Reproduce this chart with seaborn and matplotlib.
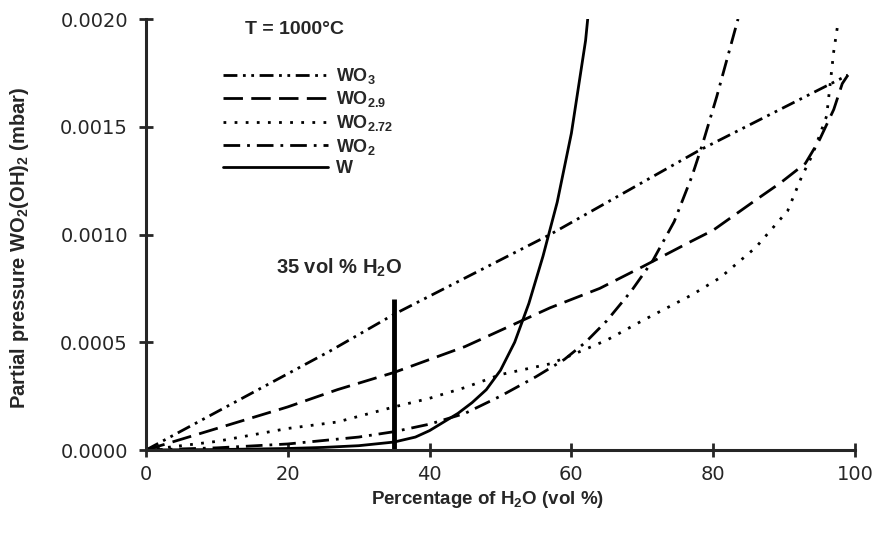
import matplotlib
matplotlib.use("Agg")
import matplotlib.pyplot as plt
from matplotlib.ticker import FormatStrFormatter
import seaborn as sns
import pandas as pd

# H2O content (vol %) and WO2(OH)2 partial pressure (mbar) for each phase
h2o_wo3 = [0, 26, 35, 57, 78, 99]
p_wo3 = [0, 0.00046, 0.00063, 0.00100, 0.00139, 0.00174]

h2o_wo29 = [0, 10, 20, 27, 35, 45, 51, 57, 64, 70, 77, 80, 86, 89.5, 93, 95, 97, 98.2, 99]
p_wo29 = [0, 0.00010, 0.00020, 0.00028, 0.00036, 0.00048, 0.00057, 0.00066, 0.00075,
          0.00085, 0.00097, 0.00102, 0.00116, 0.00124, 0.00133, 0.00144, 0.00158, 0.00170, 0.00174]

h2o_wo272 = [0, 5, 10, 20, 27, 35, 40, 45, 50, 57, 60, 65, 70, 77, 81, 86, 90.5, 92.5,
             94, 95, 96, 96.5, 97, 97.5]
p_wo272 = [0, 0.00002, 0.00004, 0.00010, 0.00013, 0.00020, 0.00024, 0.00029, 0.00035,
           0.00040, 0.00044, 0.00051, 0.00060, 0.00072, 0.00080, 0.00094, 0.00111, 0.00127,
           0.00137, 0.00146, 0.00155, 0.00170, 0.00185, 0.00196]

h2o_wo2 = [0, 10, 20, 30, 35, 40, 45, 50, 55, 59, 62, 65, 68.5, 71.5, 74.5, 77, 78.5, 80.5, 83.5]
p_wo2 = [0, 0.00001, 0.000028, 0.00006, 0.000085, 0.00012, 0.00017, 0.00025, 0.00034,
         0.00042, 0.00050, 0.00060, 0.00074, 0.00088, 0.00106, 0.00127, 0.00142, 0.00164, 0.00200]

h2o_w = [0, 10, 20, 25, 30, 35, 38, 40, 42, 44, 46, 48, 50, 52, 54, 56, 58, 60, 62, 62.3]
p_w = [0, 0.000002, 0.000007, 0.000012, 0.00002, 0.000037, 0.00006, 0.00009, 0.00013,
       0.00017, 0.00022, 0.00028, 0.00037, 0.00050, 0.00068, 0.00090, 0.00115, 0.00147,
       0.00190, 0.00200]

labels = ["WO$_3$", "WO$_{2.9}$", "WO$_{2.72}$", "WO$_2$", "W"]

# marker line for the 35 vol % H2O composition
line35_x = [35, 35]
line35_y = [0, 0.0007]

x_ticks = [0, 20, 40, 60, 80, 100]
y_ticks = [0.0, 0.0005, 0.0010, 0.0015, 0.0020]

frames = []
for lab, xs, ys in zip(labels,
                       [h2o_wo3, h2o_wo29, h2o_wo272, h2o_wo2, h2o_w],
                       [p_wo3, p_wo29, p_wo272, p_wo2, p_w]):
    frames.append(pd.DataFrame({"h2o": xs, "p": ys, "phase": lab}))
df = pd.concat(frames, ignore_index=True)

sns.set_style("ticks")
plt.rcParams["font.family"] = ["Liberation Sans", "DejaVu Sans"]
plt.rcParams["mathtext.fontset"] = "custom"
plt.rcParams["mathtext.rm"] = "Liberation Sans:bold"
plt.rcParams["mathtext.it"] = "Liberation Sans:bold"
plt.rcParams["mathtext.bf"] = "Liberation Sans:bold"

fig = plt.figure(figsize=(8.73, 5.34), dpi=100)
ax = fig.add_axes([0.1672, 0.1573, 0.9794 - 0.1672, 0.9644 - 0.1573])

dashes = {
    "WO$_3$": (5, 2, 1, 2, 1, 2),
    "WO$_{2.9}$": (7, 3),
    "WO$_{2.72}$": (1, 3),
    "WO$_2$": (6, 2.5, 1, 2.5),
    "W": "",
}
sns.lineplot(data=df, x="h2o", y="p", hue="phase", style="phase",
             palette=["black"] * 5, dashes=dashes, hue_order=labels,
             style_order=labels, sort=False, estimator=None, lw=2.0,
             ax=ax, legend=False)
ax.plot(line35_x, line35_y, color="black", lw=3.5, solid_capstyle="butt")

ax.set_xlim(0, 100)
ax.set_ylim(0, 0.002)
ax.set_xticks(x_ticks)
ax.set_yticks(y_ticks)
ax.yaxis.set_major_formatter(FormatStrFormatter("%.4f"))
ax.tick_params(direction="inout", length=10, width=2, labelsize=14, pad=8,
               labelfontfamily="DejaVu Sans")
ax.tick_params(axis="x", pad=6)
for side in ["left", "bottom"]:
    ax.spines[side].set_linewidth(2.2)
sns.despine(ax=ax)

ax.set_xlabel("Percentage of H$_2$O (vol %)", fontsize=13.5, fontweight="bold")
ax.xaxis.set_label_coords(0.482, -0.09)
ax.set_ylabel("Partial pressure WO$_2$(OH)$_2$ (mbar)", fontsize=14.5, fontweight="bold")
ax.yaxis.set_label_coords(-0.162, 0.47)

ax.text(14, 0.00195, "T = 1000°C", fontsize=14, fontweight="bold", va="center", ha="left")
ax.text(18.3, 0.000845, "35 vol % H$_2$O", fontsize=14.5, fontweight="bold", va="center", ha="left")

# legend built from the same line styles
handles = []
for lab in labels:
    d = dashes[lab]
    h, = ax.plot([], [], color="black", lw=2.0)
    if d:
        h.set_dashes(d)
    handles.append(h)
leg = ax.legend(handles, labels, loc="upper left", bbox_to_anchor=(0.098, 0.908),
                frameon=False, handlelength=5.85, handletextpad=0.4,
                labelspacing=0.2, borderaxespad=0,
                prop={"size": 13, "weight": "bold"})

fig.savefig("out.png", dpi=100)
